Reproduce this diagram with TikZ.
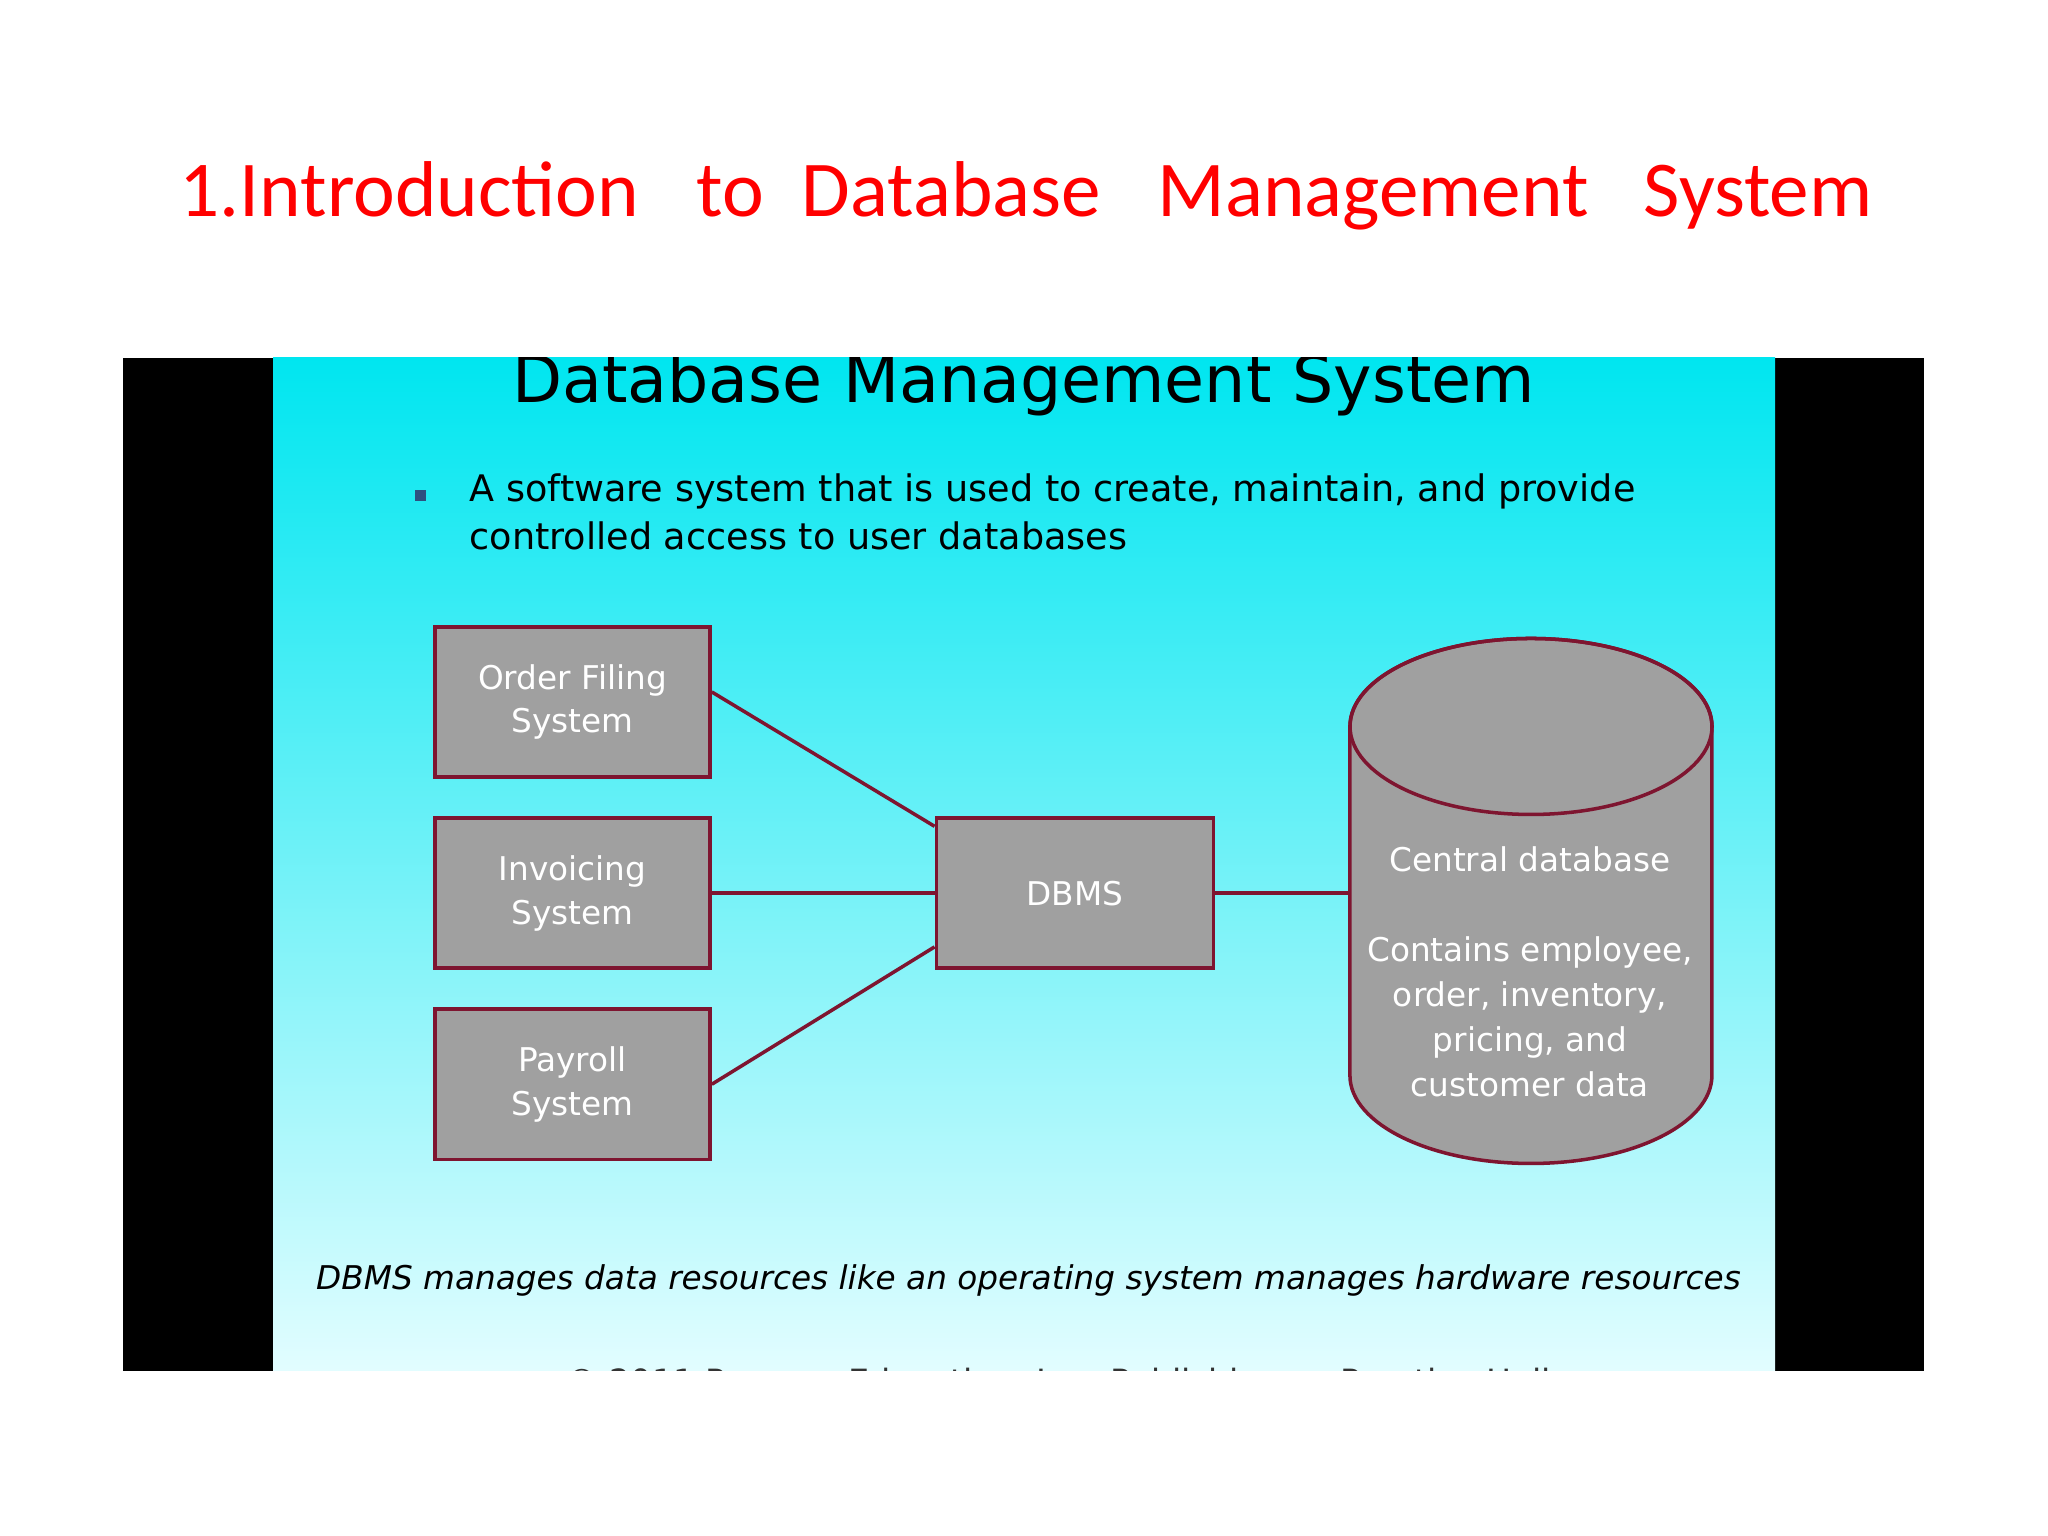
\documentclass[tikz,border=0pt]{standalone}
\usepackage{fontspec}
\setmainfont{DejaVu Sans}
\newfontfamily\headfont{Carlito}
\usetikzlibrary{positioning,calc}
\definecolor{headred}{HTML}{FF0000}
\definecolor{linkred}{HTML}{7E1530}
\definecolor{boxgray}{HTML}{A0A0A0}
\definecolor{slidetop}{HTML}{00E6F0}
\definecolor{slidemid}{HTML}{80F2F6}
\definecolor{slidebot}{HTML}{E2FDFF}
\definecolor{bulletblue}{HTML}{2E5080}
\tikzset{
  sysbox/.style={draw=linkred, fill=boxgray, line width=1pt, text=white, align=center, minimum width=2.75cm, minimum height=1.5cm, inner sep=0pt, font=\fontsize{9.3pt}{12.5pt}\selectfont},
  link/.style={draw=linkred, line width=1pt},
  headword/.style={anchor=base west, inner sep=0pt, text=headred, font=\headfont\fontsize{22.5pt}{27pt}\selectfont},
  slidetext/.style={inner sep=0pt, font=\fontsize{10.4pt}{13.7pt}\selectfont},
}

\begin{document}
\begin{tikzpicture}[x=0.01cm, y=0.01cm]
  \useasboundingbox (0,0) rectangle (2048,1536);
  \fill[white] (0,0) rectangle (2048,1536);
  % page heading
  \node[headword] (h1) at (179,1319) {1.Introduction};
  \node[headword] (h2) at (696,1319) {to};
  \node[headword] (h3) at (801,1319) {Database};
  \node[headword] (h4) at (1157,1319) {Management};
  \node[headword] (h5) at (1643,1319) {System};
  % slide frame
  \fill[black] (123,165) rectangle (1924,1178);
  \shade[top color=slidetop, middle color=slidemid, bottom color=slidebot] (273,165) rectangle (1775,1178);
  \begin{scope}
    \clip (273,165) rectangle (1775,1178);
    \node[anchor=base, inner sep=0pt, font=\fontsize{18.5pt}{22pt}\selectfont] (stitle) at (1023.5,1133) {Database Management System};
    \node[anchor=base, inner sep=0pt, text=black!80, font=\fontsize{9.5pt}{11pt}\selectfont] (copy) at (1058,143) {\textcopyright{} 2011 Pearson Education, Inc. Publishing as Prentice Hall};
  \end{scope}
  \node[fill=bulletblue, minimum size=0.11cm, inner sep=0pt] (bullet) at (420,1040) {};
  \node[slidetext, anchor=base west] (lead1) at (469,1034) {A software system that is used to create, maintain, and provide};
  \node[slidetext, anchor=base west] (lead2) at (469,986) {controlled access to user databases};
  % systems
  \node[sysbox] (order) at (572.5,834) {Order Filing\\System};
  \node[sysbox, below=0.375cm of order] (invoice) {Invoicing\\System};
  \node[sysbox, below=0.375cm of invoice] (payroll) {Payroll\\System};
  \node[sysbox, right=2.226cm of invoice, minimum width=2.77cm] (dbms) {DBMS};
  % central database
  \node[minimum width=3.62cm, minimum height=5.25cm, inner sep=0pt, outer sep=0pt, right=1.346cm of dbms, yshift=-0.08cm] (db) {};
  \filldraw[fill=boxgray, draw=linkred, line width=1pt] ($(db.north west)+(0,-88)$) -- ++(0,-349)
    arc[start angle=180, end angle=360, x radius=181, y radius=88] -- ++(0,349)
    arc[start angle=0, end angle=180, x radius=181, y radius=88] -- cycle;
  \draw[linkred, line width=1pt] ($(db.north)+(0,-88)$) ellipse[x radius=181, y radius=88];
  \node[text=white, align=center, inner sep=0pt, font=\fontsize{9.3pt}{12.8pt}\selectfont] (dbtext) at (1530,564) {Central database\\[12.8pt]Contains employee,\\order, inventory,\\pricing, and\\customer data};
  % links
  \draw[link] ([yshift=0.1cm]order.east) -- ([yshift=-0.1cm]dbms.north west);
  \draw[link] (invoice.east) -- (dbms.west);
  \draw[link] (payroll.east) -- ([yshift=0.23cm]dbms.south west);
  \draw[link] (dbms.east) -- (dbms.east -| db.west);
  \node[anchor=base, inner sep=0pt, font=\itshape\fontsize{9.3pt}{11pt}\selectfont] (note) at (1028.5,246) {DBMS manages data resources like an operating system manages hardware resources};
\end{tikzpicture}
\end{document}
